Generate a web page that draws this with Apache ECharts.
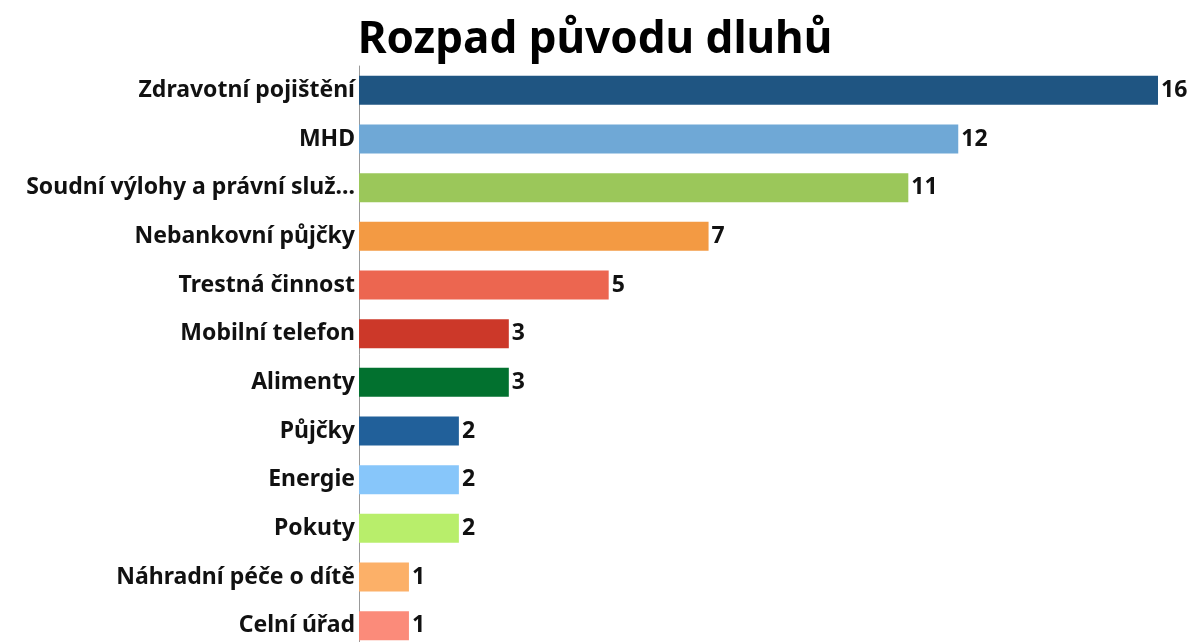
<!DOCTYPE html>
<html>
<head>
<meta charset="utf-8">
<script src="https://cdn.jsdelivr.net/npm/echarts@6/dist/echarts.min.js"></script>
<style>
  html, body { margin: 0; padding: 0; background: #fff; }
  #chart { width: 1190px; height: 642px; }
</style>
</head>
<body>
<div id="chart"></div>
<script>
// categories top to bottom
const categories = [
  "Zdravotní pojištění",
  "MHD",
  "Soudní výlohy a právní služ...",
  "Nebankovní půjčky",
  "Trestná činnost",
  "Mobilní telefon",
  "Alimenty",
  "Půjčky",
  "Energie",
  "Pokuty",
  "Náhradní péče o dítě",
  "Celní úřad"
];
const values = [16, 12, 11, 7, 5, 3, 3, 2, 2, 2, 1, 1];
const colors = [
  "#1f5582", "#6fa8d6", "#9bc75a", "#f39a43", "#ec6650", "#cc3829",
  "#02712f", "#21609a", "#87c6fa", "#b8ee6b", "#fcb068", "#fb8b7a"
];

const font = "'Noto Sans', 'Open Sans', sans-serif";
const chart = echarts.init(document.getElementById("chart"));

chart.setOption({
  backgroundColor: "#fff",
  animation: false,
  title: {
    text: "Rozpad původu dluhů",
    left: "center",
    top: 13,
    textStyle: { fontFamily: font, fontSize: 44, fontWeight: "bold", color: "#000" }
  },
  grid: { top: 66, left: 359, right: 32, height: 584, outerBoundsMode: "none" },
  xAxis: {
    type: "value",
    min: 0,
    max: 16,
    show: false
  },
  yAxis: {
    type: "category",
    inverse: true,
    data: categories,
    axisTick: { show: false },
    axisLine: { show: true, lineStyle: { color: "#999", width: 1 } },
    axisLabel: {
      fontFamily: font,
      fontSize: 23,
      fontWeight: "bold",
      color: "#111",
      margin: 4
    }
  },
  series: [{
    type: "bar",
    data: values.map((v, i) => ({ value: v, itemStyle: { color: colors[i] } })),
    barWidth: 29,
    label: {
      show: true,
      position: "right",
      distance: 3,
      fontFamily: font,
      fontSize: 23,
      fontWeight: "bold",
      color: "#111"
    }
  }]
});
</script>
</body>
</html>
